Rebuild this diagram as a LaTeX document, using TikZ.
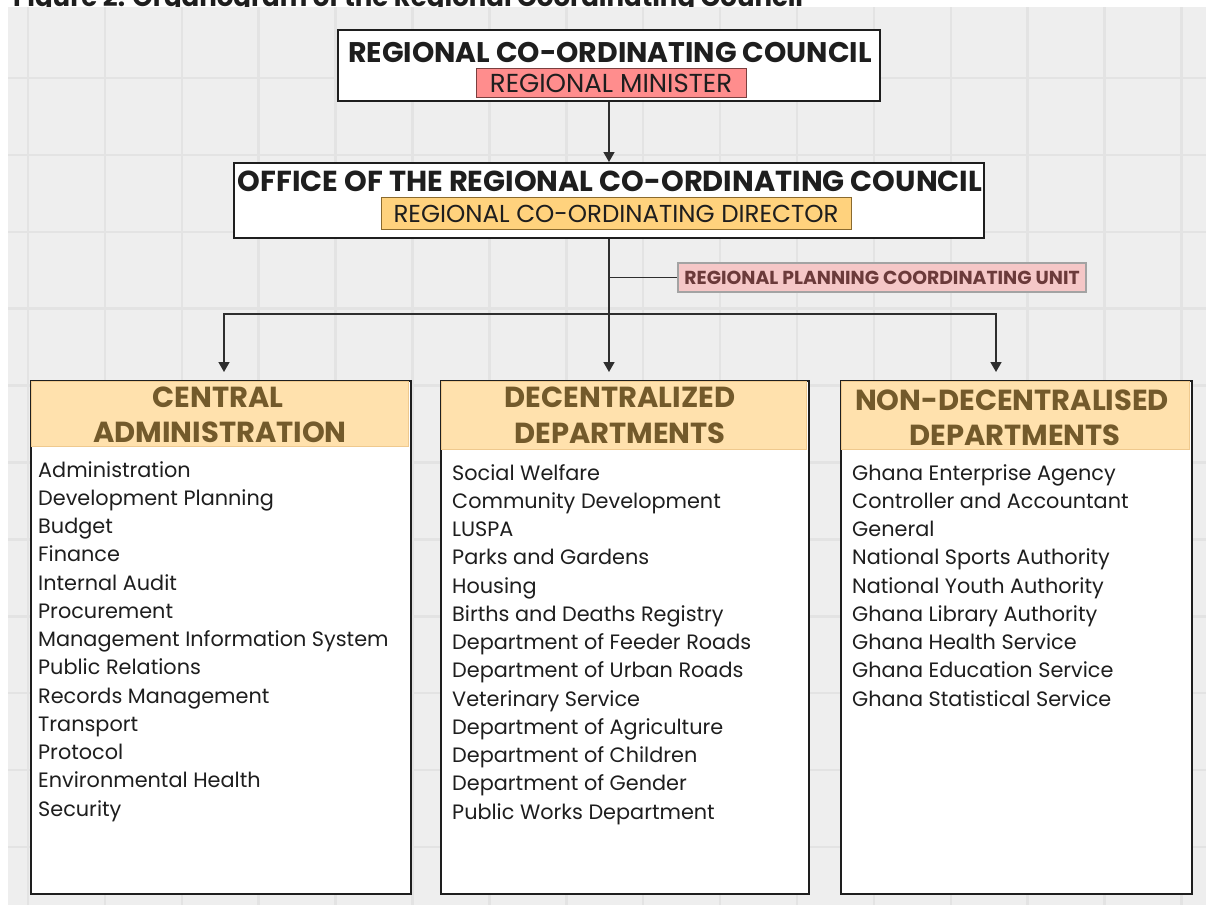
\documentclass[tikz,border=0pt]{standalone}
\usepackage{fontspec}
\setmainfont{Poppins}
\usetikzlibrary{arrows.meta}

\definecolor{paper}{HTML}{EEEEEE}
\definecolor{gridline}{HTML}{E3E3E3}
\definecolor{ink}{HTML}{1E1E1E}
\definecolor{wire}{HTML}{2E2E2E}
\definecolor{minfill}{HTML}{FF8D8D}
\definecolor{minedge}{HTML}{7A3F3F}
\definecolor{dirfill}{HTML}{FFD27D}
\definecolor{diredge}{HTML}{8A6A2E}
\definecolor{unitfill}{HTML}{F5C7C7}
\definecolor{unitedge}{HTML}{A3A3A3}
\definecolor{unittext}{HTML}{6B3A3A}
\definecolor{headfill}{HTML}{FFE1AD}
\definecolor{headedge}{HTML}{EFC98E}
\definecolor{headtext}{HTML}{735A2B}

\tikzset{
  frame/.style={draw=ink, line width=2pt, fill=white, inner sep=0pt},
  tag/.style={line width=1pt, inner sep=0pt},
  conn/.style={draw=wire, line width=1.5pt},
  arr/.style={conn, -{Triangle[width=11pt,length=10pt]}},
  headtxt/.style={text=headtext, font=\bfseries\fontsize{29}{29}\selectfont, inner sep=0pt},
  item/.style={text=ink, font=\fontsize{20.8}{20.8}\selectfont, inner sep=0pt, anchor=base west},
}

\begin{document}
\begin{tikzpicture}[x=1pt, y=-1pt]
\useasboundingbox (0,0) rectangle (1206,905);

% caption, cut off by the top edge
\begin{scope}
  \clip (0,0) rectangle (1206,7);
  \node[anchor=base west, inner sep=0pt, text=ink, font=\bfseries\fontsize{26}{26}\selectfont] (caption) at (13,6)
    {Figure 2: Organogram of the Regional Coordinating Council};
\end{scope}

% squared paper
\fill[paper] (8,7) rectangle (1206,905);
\begin{scope}
  \clip (8,7) rectangle (1206,905);
  \foreach \k in {0,...,15} \draw[gridline, line width=2.5pt] (28+76.9*\k,7) -- (28+76.9*\k,905);
  \foreach \k in {0,...,10} \draw[gridline, line width=2.5pt] (8,78+76.9*\k) -- (1206,78+76.9*\k);
\end{scope}

% regional co-ordinating council
\node[frame, minimum width=542pt, minimum height=71pt] (rcc) at (609,65.5) {};
\node[text=ink, inner sep=0pt, font=\bfseries\fontsize{28.4}{28.4}\selectfont] (rcctitle) at (610,52) {REGIONAL CO-ORDINATING COUNCIL};
\node[tag, draw=minedge, fill=minfill, minimum width=270pt, minimum height=29pt] (minister) at (611,82.5) {};
\node[text=ink, inner sep=0pt, font=\fontsize{26}{26}\selectfont] (ministertxt) at (611,83) {REGIONAL MINISTER};

% office of the council
\node[frame, minimum width=750pt, minimum height=75pt] (orcc) at (609,200.5) {};
\node[text=ink, inner sep=0pt, font=\bfseries\fontsize{28.9}{28.9}\selectfont] (orcctitle) at (610,181) {OFFICE OF THE REGIONAL CO-ORDINATING COUNCIL};
\node[tag, draw=diredge, fill=dirfill, minimum width=470pt, minimum height=32pt] (director) at (616,213) {};
\node[text=ink, inner sep=0pt, font=\fontsize{24.5}{24.5}\selectfont] (directortxt) at (616,213.5) {REGIONAL CO-ORDINATING DIRECTOR};

% planning unit
\node[draw=unitedge, line width=2pt, fill=unitfill, minimum width=408pt, minimum height=29pt, inner sep=0pt] (rpcu) at (882,277.5) {};
\node[text=unittext, inner sep=0pt, font=\bfseries\fontsize{18.8}{18.8}\selectfont] (rpcutxt) at (882,278) {REGIONAL PLANNING COORDINATING UNIT};

% the three groups of departments
\node[frame, minimum width=380pt, minimum height=513pt, anchor=north west] (cen) at (30,380) {};
\node[frame, minimum width=368pt, minimum height=513pt, anchor=north west] (dec) at (440,380) {};
\node[frame, minimum width=351pt, minimum height=513pt, anchor=north west] (non) at (840,380) {};

\fill[headfill, draw=headedge, line width=1pt] (31.5,381.5) rectangle (408.5,446);
\fill[headfill, draw=headedge, line width=1pt] (441.5,381.5) rectangle (806.5,449);
\fill[headfill, draw=headedge, line width=1pt] (841.5,381.5) rectangle (1189.5,449);

\node[headtxt] (cenh1) at (218,397) {CENTRAL};
\node[headtxt] (cenh2) at (220,432) {ADMINISTRATION};
\node[headtxt] (dech1) at (620,397) {DECENTRALIZED};
\node[headtxt] (dech2) at (620,433) {DEPARTMENTS};
\node[headtxt] (nonh1) at (1012,400) {NON-DECENTRALISED};
\node[headtxt] (nonh2) at (1015,435) {DEPARTMENTS};

\foreach \t [count=\i] in {Administration, Development Planning, Budget, Finance, Internal Audit,
    Procurement, Management Information System, Public Relations, Records Management,
    Transport, Protocol, Environmental Health, Security}
  \node[item] (cen\i) at (38,{477+28.25*(\i-1)}) {\t};

\foreach \t [count=\i] in {Social Welfare, Community Development, LUSPA, Parks and Gardens, Housing,
    Births and Deaths Registry, Department of Feeder Roads, Department of Urban Roads,
    Veterinary Service, Department of Agriculture, Department of Children,
    Department of Gender, Public Works Department}
  \node[item] (dec\i) at (452,{480+28.25*(\i-1)}) {\t};

\foreach \t [count=\i] in {Ghana Enterprise Agency, Controller and Accountant, General,
    National Sports Authority, National Youth Authority, Ghana Library Authority,
    Ghana Health Service, Ghana Education Service, Ghana Statistical Service}
  \node[item] (non\i) at (852,{480+28.25*(\i-1)}) {\t};

% connectors
\coordinate (unitjoin) at (orcc.south |- rpcu.west);
\coordinate (bus) at (609,314);
\coordinate (cenin) at (224,380);
\coordinate (nonin) at (996,380);

\draw[arr] (rcc.south) -- (orcc.north);
\draw[conn] (unitjoin) -- (rpcu.west);
\draw[arr, shorten >=8pt] (orcc.south) -- (orcc.south |- dec.north);
\draw[arr, shorten >=8pt] (bus) -| (cenin);
\draw[arr, shorten >=8pt] (bus) -| (nonin);
\end{tikzpicture}
\end{document}
